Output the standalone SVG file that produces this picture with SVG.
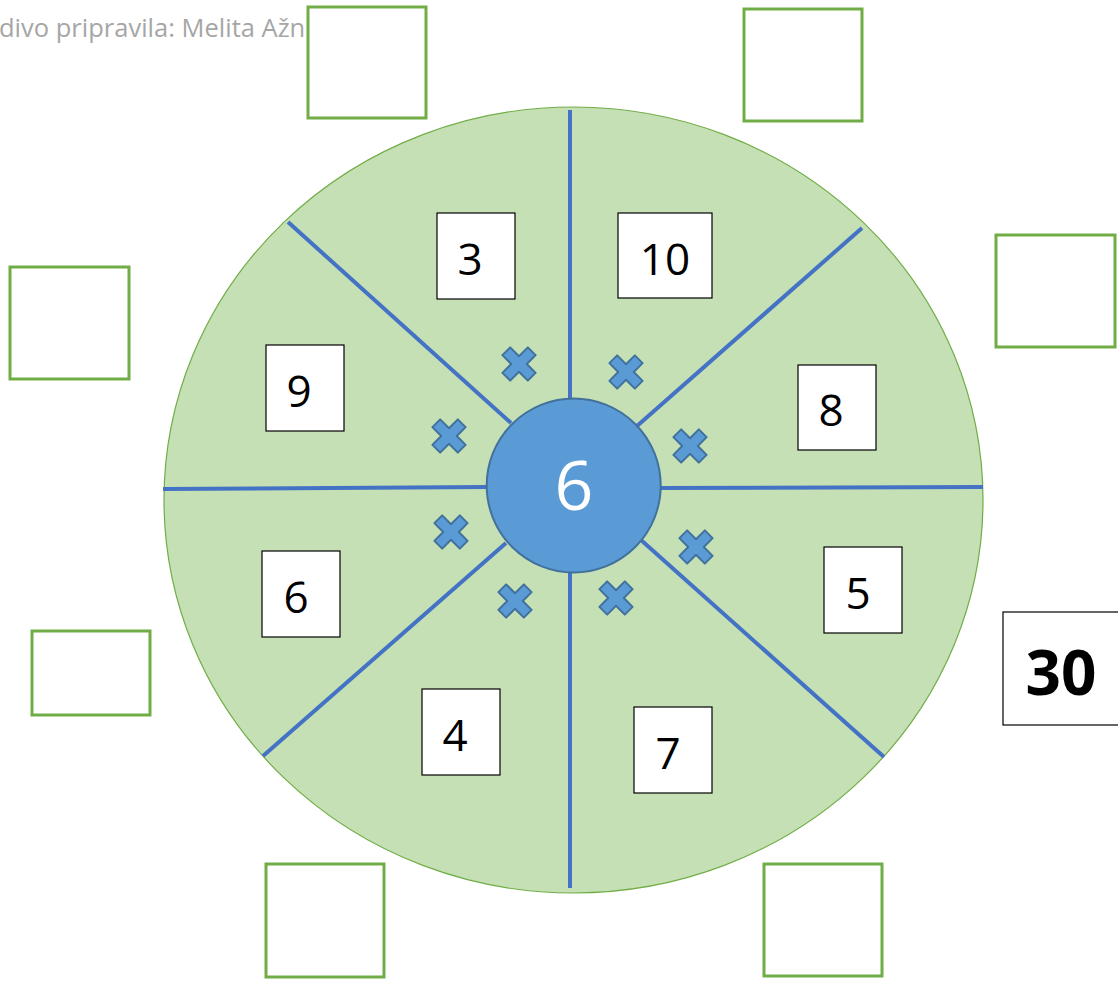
<svg xmlns="http://www.w3.org/2000/svg" width="1118" height="982" viewBox="0 0 1118 982">
<style>
.gbox{fill:#fff;stroke:#70AD47;stroke-width:3}
.nbox{fill:#fff;stroke:#000;stroke-width:1.2}
.num{font-family:"Open Sans","Liberation Sans",sans-serif;font-size:44px;fill:#000;text-anchor:middle}
.div{stroke:#4472C4;stroke-width:4;fill:none}
.cross{fill:#5B9BD5;stroke:#41719C;stroke-width:2;stroke-linejoin:round}
</style>
<defs>
<path id="x" d="M-5.5,-18 L5.5,-18 L5.5,-5.5 L18,-5.5 L18,5.5 L5.5,5.5 L5.5,18 L-5.5,18 L-5.5,5.5 L-18,5.5 L-18,-5.5 L-5.5,-5.5 Z" transform="rotate(45)"/>
</defs>
<rect width="1118" height="982" fill="#fff"/>
<text x="-1" y="37" font-family="Open Sans, Liberation Sans, sans-serif" font-size="25.5" fill="#A6A6A6">divo pripravila: Melita Ažn</text>
<g id="wheel">
<ellipse cx="573.5" cy="500" rx="409.5" ry="393" fill="#C5E0B4" stroke="#70AD47" stroke-width="1.2"/>
</g>
<g id="connectors">
<line class="div" x1="570" y1="110" x2="570" y2="398"/>
<line class="div" x1="570" y1="573" x2="570" y2="888"/>
<line class="div" x1="163" y1="489" x2="487" y2="487"/>
<line class="div" x1="660" y1="488" x2="983" y2="487"/>
<line class="div" x1="288" y1="222" x2="511" y2="423"/>
<line class="div" x1="862" y1="228" x2="637" y2="426"/>
<line class="div" x1="263" y1="756" x2="506" y2="543"/>
<line class="div" x1="884" y1="757" x2="641" y2="540"/>
</g>
<g id="center">
<circle cx="573.7" cy="485.5" r="87" fill="#5B9BD5" stroke="#41719C" stroke-width="2"/>
<text x="574" y="510" font-family="Open Sans, Liberation Sans, sans-serif" font-size="68" fill="#fff" text-anchor="middle">6</text>
</g>
<g id="crosses">
<use href="#x" class="cross" transform="translate(519,364)"/>
<use href="#x" class="cross" transform="translate(626,372)"/>
<use href="#x" class="cross" transform="translate(449,436)"/>
<use href="#x" class="cross" transform="translate(690,446)"/>
<use href="#x" class="cross" transform="translate(451,532)"/>
<use href="#x" class="cross" transform="translate(696,547)"/>
<use href="#x" class="cross" transform="translate(515,601)"/>
<use href="#x" class="cross" transform="translate(616,598)"/>
</g>
<g id="n3"><rect class="nbox" x="437" y="213" width="78" height="86"/><text class="num" x="470" y="275">3</text></g>
<g id="n10"><rect class="nbox" x="618" y="213" width="94" height="85"/><text class="num" x="665" y="275">10</text></g>
<g id="n9"><rect class="nbox" x="266" y="345" width="78" height="86"/><text class="num" x="299" y="407">9</text></g>
<g id="n8"><rect class="nbox" x="798" y="365" width="78" height="85"/><text class="num" x="831" y="426">8</text></g>
<g id="n6"><rect class="nbox" x="262" y="551" width="78" height="86"/><text class="num" x="296" y="613">6</text></g>
<g id="n5"><rect class="nbox" x="824" y="547" width="78" height="86"/><text class="num" x="858" y="609">5</text></g>
<g id="n4"><rect class="nbox" x="422" y="689" width="78" height="86"/><text class="num" x="455" y="751">4</text></g>
<g id="n7"><rect class="nbox" x="634" y="707" width="78" height="86"/><text class="num" x="668" y="769">7</text></g>
<g id="n30"><rect class="nbox" x="1003" y="612" width="118" height="113"/><text x="1061" y="695" font-family="Open Sans, Liberation Sans, sans-serif" font-size="62" font-weight="bold" text-anchor="middle" fill="#000">30</text></g>
<g id="b1"><rect class="gbox" x="308" y="7" width="118" height="111"/></g>
<g id="b2"><rect class="gbox" x="744" y="9" width="118" height="112"/></g>
<g id="b3"><rect class="gbox" x="996" y="235" width="119" height="112"/></g>
<g id="b4"><rect class="gbox" x="10" y="267" width="119" height="112"/></g>
<g id="b5"><rect class="gbox" x="32" y="631" width="118" height="84"/></g>
<g id="b6"><rect class="gbox" x="266" y="864" width="118" height="113"/></g>
<g id="b7"><rect class="gbox" x="764" y="864" width="118" height="112"/></g>
</svg>
